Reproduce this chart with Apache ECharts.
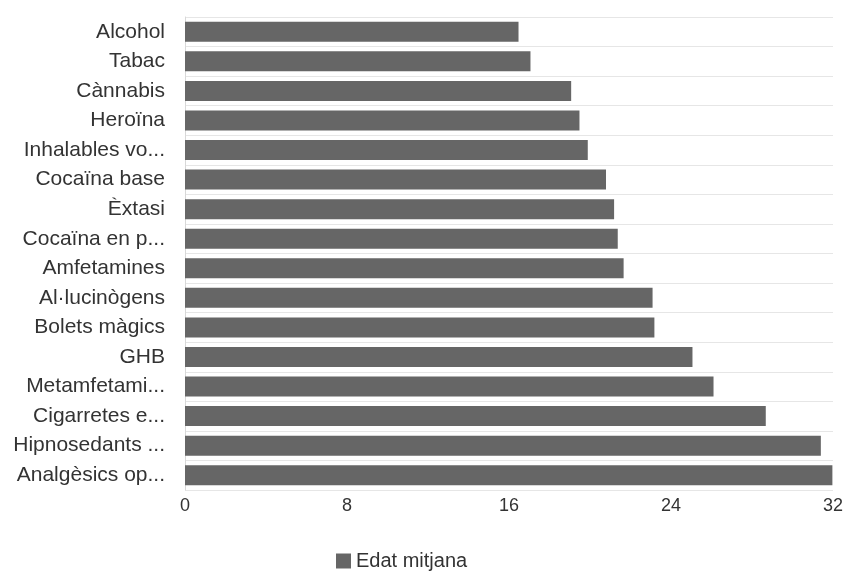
<!DOCTYPE html>
<html>
<head>
<meta charset="utf-8">
<script src="https://cdn.jsdelivr.net/npm/echarts@6/dist/echarts.min.js"></script>
<style>html,body{margin:0;padding:0;background:#fff}#c{width:850px;height:574px}</style>
</head>
<body>
<div id="c"></div>
<script>
const categories = ["Alcohol","Tabac","Cànnabis","Heroïna","Inhalables vo...","Cocaïna base","Èxtasi","Cocaïna en p...","Amfetamines","Al·lucinògens","Bolets màgics","GHB","Metamfetami...","Cigarretes e...","Hipnosedants ...","Analgèsics op..."];
const values = [16.47,17.06,19.07,19.48,19.89,20.79,21.19,21.37,21.66,23.09,23.18,25.06,26.1,28.68,31.4,31.97];
const seriesName = "Edat mitjana";
const xTicks = [0,8,16,24,32];

const chart = echarts.init(document.getElementById('c'));
chart.setOption({
  animation:false,
  textStyle:{fontFamily:'Liberation Sans, Arial, sans-serif'},
  grid:{left:185,right:17,top:17,bottom:84,containLabel:false},
  xAxis:{type:'value',min:xTicks[0],max:xTicks[xTicks.length-1],interval:8,
    axisLine:{show:false},axisTick:{show:false},
    splitLine:{show:false},
    axisLabel:{color:'#333',fontSize:18,margin:7}},
  yAxis:{type:'category',inverse:true,data:categories,
    axisLine:{show:true,lineStyle:{color:'#d8d8d8'}},axisTick:{show:false},
    splitLine:{show:true,lineStyle:{color:'#e6e6e6'}},
    axisLabel:{color:'#333',fontSize:21,margin:20,padding:[0,0,9,0]}},
  legend:{top:546,left:331,itemWidth:15,itemHeight:15,icon:'rect',itemGap:5,
    textStyle:{color:'#333',fontSize:20},data:[seriesName]},
  series:[{name:seriesName,type:'bar',data:values,barWidth:20,itemStyle:{color:'#666666'}}]
});
</script>
</body>
</html>
